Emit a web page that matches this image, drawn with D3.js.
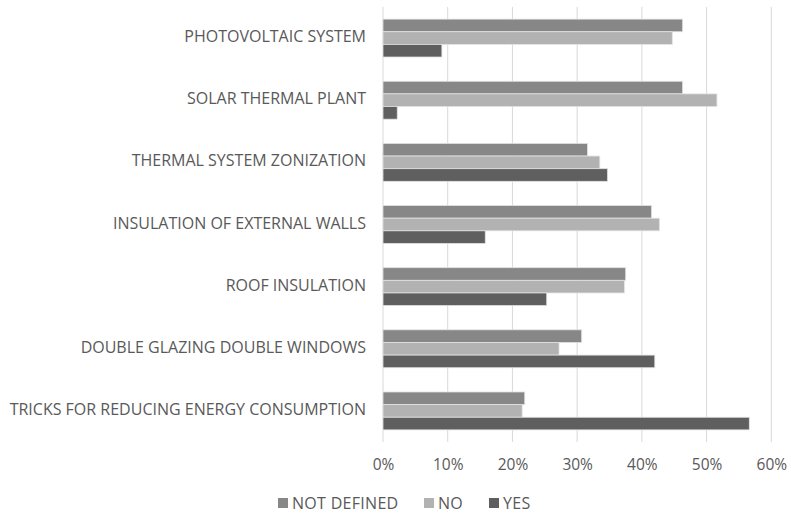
<!DOCTYPE html>
<html>
<head>
<meta charset="utf-8">
<script src="https://cdn.jsdelivr.net/npm/d3@7"></script>
<style>
  html, body { margin: 0; padding: 0; background: #fff; }
  svg { display: block; }
  text { font-family: "Open Sans", "Liberation Sans", sans-serif; fill: #595959; }
</style>
</head>
<body>
<svg id="chart" width="791" height="514"></svg>
<script>
// Survey answers per energy-saving measure (share of respondents)
const categories = [
  "PHOTOVOLTAIC SYSTEM",
  "SOLAR THERMAL PLANT",
  "THERMAL SYSTEM ZONIZATION",
  "INSULATION OF EXTERNAL WALLS",
  "ROOF INSULATION",
  "DOUBLE GLAZING DOUBLE WINDOWS",
  "TRICKS FOR REDUCING ENERGY CONSUMPTION"
];
const seriesNames = ["NOT DEFINED", "NO", "YES"];
const notDefined = [0.463, 0.463, 0.316, 0.415, 0.375, 0.307, 0.219];
const no         = [0.447, 0.516, 0.335, 0.427, 0.373, 0.272, 0.215];
const yes        = [0.091, 0.022, 0.347, 0.158, 0.253, 0.420, 0.566];
const xTicks = [0, 0.1, 0.2, 0.3, 0.4, 0.5, 0.6];
const colors = ["#878787", "#b2b2b2", "#5f5f5f"];

const values = [notDefined, no, yes];
const rows = categories.map((c, i) => ({
  category: c,
  vals: seriesNames.map((s, k) => ({ series: s, value: values[k][i], k }))
}));

const svg = d3.select("#chart");

const x = d3.scaleLinear().domain([0, 0.6]).range([383, 771.3]);
const y = d3.scaleBand().domain(categories).range([7, 442]).paddingInner(0.39).paddingOuter(0.195);
const ySub = d3.scaleBand().domain(seriesNames).range([0, y.bandwidth()]);

// vertical gridlines
svg.append("g")
  .selectAll("line")
  .data(xTicks)
  .join("line")
  .attr("x1", d => x(d)).attr("x2", d => x(d))
  .attr("y1", 7).attr("y2", 442)
  .attr("stroke", "#d9d9d9")
  .attr("stroke-width", 1);

// bars
const groups = svg.append("g")
  .selectAll("g")
  .data(rows)
  .join("g")
  .attr("transform", d => `translate(0,${y(d.category)})`);

groups.selectAll("rect")
  .data(d => d.vals)
  .join("rect")
  .attr("x", x(0))
  .attr("y", d => ySub(d.series))
  .attr("width", d => x(d.value) - x(0))
  .attr("height", ySub.bandwidth())
  .attr("fill", d => colors[d.k])
  .attr("stroke", "#e2e2e2")
  .attr("stroke-width", 0.8);

// x axis tick labels
const xAxis = d3.axisBottom(x)
  .tickValues(xTicks)
  .tickFormat(d3.format(".0%"))
  .tickSize(0)
  .tickPadding(0);
const gx = svg.append("g").attr("transform", "translate(0,465)").call(xAxis);
gx.select(".domain").remove();
gx.selectAll("text")
  .attr("font-size", 15.5)
  .attr("dy", "0.35em")
  .style("font-family", null)
  .attr("fill", "#595959");

// category labels
const yAxis = d3.axisLeft(y).tickSize(0).tickPadding(0);
const gy = svg.append("g").attr("transform", "translate(366,-1.5)").call(yAxis);
gy.select(".domain").remove();
gy.selectAll("text")
  .attr("font-size", 16)
  .attr("dy", "0.35em")
  .style("font-family", null)
  .attr("fill", "#595959");

// legend
const legendX = [278, 424, 489];
const legend = svg.append("g")
  .selectAll("g")
  .data(seriesNames)
  .join("g")
  .attr("transform", (d, i) => `translate(${legendX[i]},503)`);
legend.append("rect")
  .attr("x", 0).attr("y", -5)
  .attr("width", 10).attr("height", 10)
  .attr("fill", (d, i) => colors[i]);
legend.append("text")
  .attr("x", 14)
  .attr("y", 0)
  .attr("dy", "0.35em")
  .attr("font-size", 16)
  .attr("letter-spacing", 0.3)
  .text(d => d);
</script>
</body>
</html>
